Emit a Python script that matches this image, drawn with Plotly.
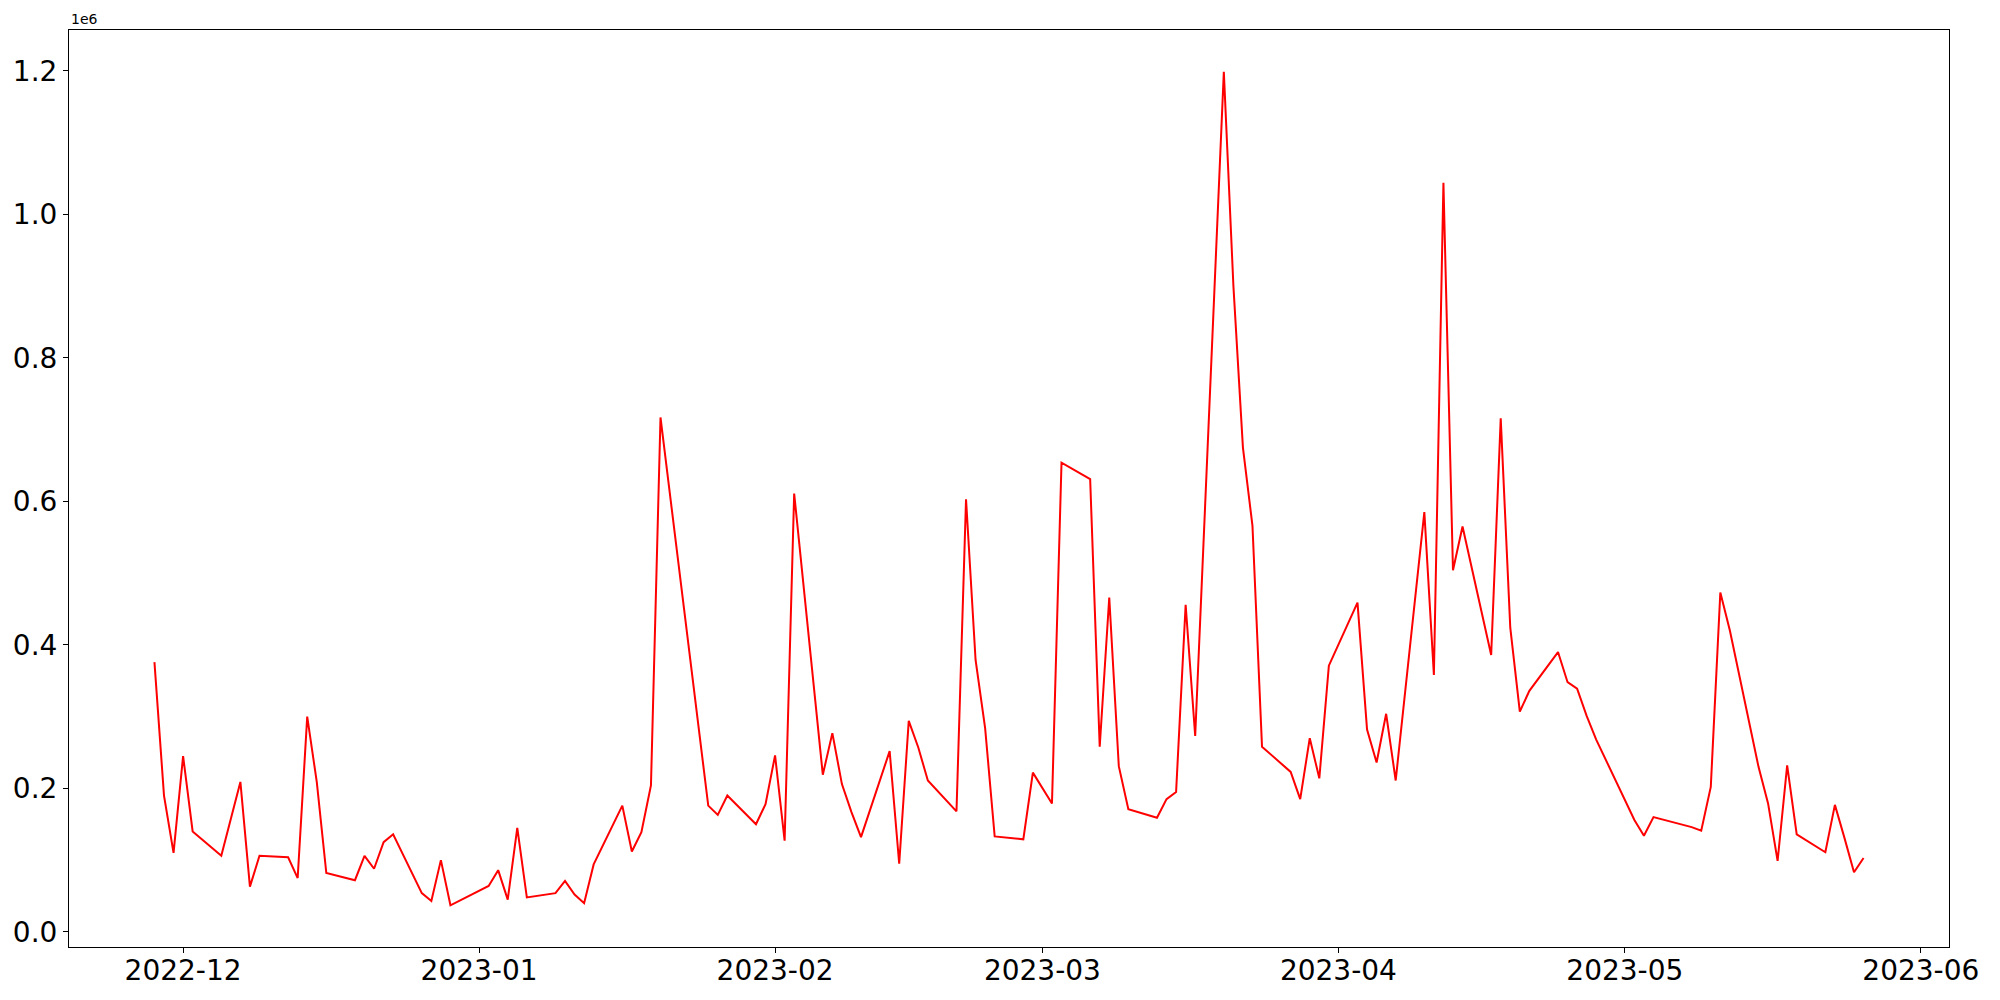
import pandas as pd
import plotly.graph_objects as go

dates = [
    "2022-11-28", "2022-11-29", "2022-11-30", "2022-12-01", "2022-12-02",
    "2022-12-05", "2022-12-07", "2022-12-08", "2022-12-09", "2022-12-12",
    "2022-12-13", "2022-12-14", "2022-12-15", "2022-12-16", "2022-12-19",
    "2022-12-20", "2022-12-21", "2022-12-22", "2022-12-23", "2022-12-26",
    "2022-12-27", "2022-12-28", "2022-12-29", "2023-01-02", "2023-01-03",
    "2023-01-04", "2023-01-05", "2023-01-06", "2023-01-09", "2023-01-10",
    "2023-01-11", "2023-01-12", "2023-01-13", "2023-01-16", "2023-01-17",
    "2023-01-18", "2023-01-19", "2023-01-20", "2023-01-25", "2023-01-26",
    "2023-01-27", "2023-01-30", "2023-01-31", "2023-02-01", "2023-02-02",
    "2023-02-03", "2023-02-06", "2023-02-07", "2023-02-08", "2023-02-09",
    "2023-02-10", "2023-02-13", "2023-02-14", "2023-02-15", "2023-02-16",
    "2023-02-17", "2023-02-20", "2023-02-21", "2023-02-22", "2023-02-23",
    "2023-02-24", "2023-02-27", "2023-02-28", "2023-03-02", "2023-03-03",
    "2023-03-06", "2023-03-07", "2023-03-08", "2023-03-09", "2023-03-10",
    "2023-03-13", "2023-03-14", "2023-03-15", "2023-03-16", "2023-03-17",
    "2023-03-20", "2023-03-21", "2023-03-22", "2023-03-23", "2023-03-24",
    "2023-03-27", "2023-03-28", "2023-03-29", "2023-03-30", "2023-03-31",
    "2023-04-03", "2023-04-04", "2023-04-05", "2023-04-06", "2023-04-07",
    "2023-04-10", "2023-04-11", "2023-04-12", "2023-04-13", "2023-04-14",
    "2023-04-17", "2023-04-18", "2023-04-19", "2023-04-20", "2023-04-21",
    "2023-04-24", "2023-04-25", "2023-04-26", "2023-04-27", "2023-04-28",
    "2023-05-02", "2023-05-03", "2023-05-04", "2023-05-08", "2023-05-09",
    "2023-05-10", "2023-05-11", "2023-05-12", "2023-05-15", "2023-05-16",
    "2023-05-17", "2023-05-18", "2023-05-19", "2023-05-22", "2023-05-23",
    "2023-05-24", "2023-05-25", "2023-05-26",
]

values = [
    376000, 190000, 110000, 245000, 140000,
    106000, 209000, 63000, 106000, 104000,
    75000, 300000, 209000, 82000, 72000,
    106000, 88000, 125000, 136000, 54000,
    43000, 100000, 37000, 64000, 86000,
    45000, 145000, 48000, 54000, 71000,
    52000, 40000, 94000, 176000, 112000,
    139000, 204000, 717000, 176000, 163000,
    190000, 150000, 178000, 246000, 127000,
    611000, 219000, 277000, 206000, 167000,
    132000, 252000, 95000, 294000, 257000,
    211000, 168000, 603000, 379000, 284000,
    133000, 129000, 222000, 179000, 654000,
    631000, 258000, 466000, 231000, 171000,
    159000, 185000, 195000, 456000, 273000,
    1199000, 901000, 675000, 566000, 258000,
    223000, 185000, 270000, 214000, 371000,
    459000, 282000, 236000, 304000, 211000,
    585000, 358000, 1044000, 504000, 565000,
    386000, 716000, 424000, 307000, 336000,
    390000, 348000, 339000, 301000, 268000,
    156000, 134000, 160000, 146000, 141000,
    202000, 473000, 420000, 230000, 179000,
    99000, 232000, 136000, 111000, 177000,
    131000, 83000, 103000,
]

y_ticks = [0, 200000, 400000, 600000, 800000, 1000000, 1200000]
y_tick_labels = ["0.0", "0.2", "0.4", "0.6", "0.8", "1.0", "1.2"]

# matplotlib-like autoscale: 5% margin on each side
x = pd.to_datetime(dates)
x_pad = (x.max() - x.min()) * 0.05
y_pad = (max(values) - min(values)) * 0.05

fig = go.Figure()
fig.add_trace(go.Scatter(
    x=x, y=values, mode="lines",
    line=dict(color="#ff0000", width=2),
))

axis_style = dict(
    showline=True, linecolor="black", linewidth=1.1, mirror=True,
    ticks="outside", ticklen=5, tickwidth=1.1, tickcolor="black",
    showgrid=False, zeroline=False, automargin=False,
    tickfont=dict(size=28, color="black", family="DejaVu Sans"),
)

fig.update_xaxes(
    range=[x.min() - x_pad, x.max() + x_pad],
    tick0="2022-12-01", dtick="M1", tickformat="%Y-%m",
    ticklabelstandoff=-7,
    **axis_style,
)
fig.update_yaxes(
    range=[min(values) - y_pad, max(values) + y_pad],
    tickvals=y_ticks, ticktext=y_tick_labels,
    **axis_style,
)

fig.add_annotation(
    text="1e6", xref="paper", yref="paper", x=0, y=1,
    xanchor="left", yanchor="bottom", showarrow=False, yshift=1,
    font=dict(size=14, color="black", family="DejaVu Sans"),
)

# page body has an 8px margin, so the figure is sized to sit inside the window
fig.update_layout(
    width=1984, height=984,
    margin=dict(l=61, r=43, t=22, b=45),
    plot_bgcolor="white", paper_bgcolor="white",
    showlegend=False,
    font=dict(family="DejaVu Sans", color="black"),
)

fig.write_html("out.html")
